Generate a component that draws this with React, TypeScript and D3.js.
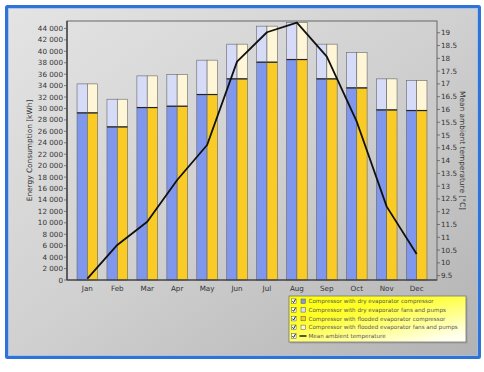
import React from "react";
import * as d3 from "d3";

const months = ["Jan", "Feb", "Mar", "Apr", "May", "Jun", "Jul", "Aug", "Sep", "Oct", "Nov", "Dec"];
const dryCompressor = [29230, 26780, 30160, 30400, 32440, 35180, 38100, 38560, 35180, 33600, 29750, 29640];
const dryFansPumps = [5070, 4840, 5540, 5540, 6010, 6070, 6300, 6480, 6070, 6190, 5430, 5250];
const floodedCompressor = [29230, 26780, 30160, 30400, 32440, 35180, 38100, 38560, 35180, 33600, 29750, 29640];
const floodedFansPumps = [5070, 4840, 5540, 5540, 6010, 6070, 6300, 6480, 6070, 6190, 5430, 5250];
const meanTemperature = [9.38, 10.7, 11.61, 13.24, 14.61, 17.87, 19.02, 19.4, 18.07, 15.52, 12.2, 10.35];

const energyTicks = d3.range(0, 44001, 2000);
const tempTicks = d3.range(9.5, 19.01, 0.5);

const legendItems = [
  { label: "Compressor with dry evaporator compressor", kind: "box", color: "#7f98ee" },
  { label: "Compressor with dry evaporator fans and pumps", kind: "box", color: "#d6dcf8" },
  { label: "Compressor with flooded evaporator compressor", kind: "box", color: "#f9cb24" },
  { label: "Compressor with flooded evaporator fans and pumps", kind: "box", color: "#fff6d8" },
  { label: "Mean ambient temperature", kind: "line", color: "#111" },
];

const W = 484;
const H = 372;
const plot = { left: 67, right: 437, top: 21, bottom: 280 };
const FONT = "DejaVu Sans, Verdana, sans-serif";

const fmt = (v: number) => d3.format(",")(v).replace(/,/g, " ");
const fmtT = (v: number) => (Number.isInteger(v) ? String(v) : v.toFixed(1));

export default function App() {
  const x = d3
    .scaleBand<string>()
    .domain(months)
    .range([plot.left, plot.right])
    .paddingInner(0.31)
    .paddingOuter(0.335);
  const sub = d3.scaleBand<string>().domain(["dry", "flooded"]).range([0, x.bandwidth()]);
  const y = d3.scaleLinear().domain([0, 45300]).range([plot.bottom, plot.top]);
  const yT = d3.scaleLinear().domain([9.33, 19.46]).range([plot.bottom, plot.top]);

  const line = d3
    .line<number>()
    .x((_, i) => (x(months[i]) as number) + x.bandwidth() / 2)
    .y((d) => yT(d));

  const groups = [
    { key: "dry", comp: dryCompressor, fans: dryFansPumps, c1: legendItems[0].color, c2: legendItems[1].color },
    { key: "flooded", comp: floodedCompressor, fans: floodedFansPumps, c1: legendItems[2].color, c2: legendItems[3].color },
  ];

  const lg = { x: 289, y: 296, w: 177, h: 46 };

  return (
    <svg
      width={W}
      height={H}
      style={{ position: "absolute", left: 0, top: 0, display: "block" }}
      fontFamily={FONT}
    >
      <defs>
        <linearGradient id="bg" x1="0" y1="0" x2="1" y2="1">
          <stop offset="0" stopColor="#e4e4e4" />
          <stop offset="0.5" stopColor="#d0d0d0" />
          <stop offset="1" stopColor="#b2b2b2" />
        </linearGradient>
        <linearGradient id="legbg" x1="0" y1="0" x2="0.8" y2="1">
          <stop offset="0" stopColor="#ffff00" />
          <stop offset="0.4" stopColor="#ffff30" />
          <stop offset="1" stopColor="#fffff0" />
        </linearGradient>
      </defs>
      <rect x={0} y={0} width={W} height={H} fill="#ffffff" />
      <rect x={6.5} y={6.5} width={473} height={351} fill="url(#bg)" stroke="#2f72d8" strokeWidth={3} rx={1} />
      <rect x={8.5} y={8.5} width={469} height={347} fill="none" stroke="#9ec0ee" strokeWidth={0.8} />

      {/* bars */}
      {months.map((m, i) => (
        <g key={m}>
          {groups.map((g) => {
            const bx = (x(m) as number) + (sub(g.key) as number);
            const bw = sub.bandwidth();
            const yc = y(g.comp[i]);
            const yt = y(g.comp[i] + g.fans[i]);
            return (
              <g key={g.key}>
                <rect x={bx} y={yc} width={bw} height={plot.bottom - yc} fill={g.c1} stroke="#666" strokeWidth={0.6} />
                <rect x={bx} y={yt} width={bw} height={yc - yt} fill={g.c2} stroke="#666" strokeWidth={0.6} />
                <line x1={bx} x2={bx + bw} y1={yc} y2={yc} stroke="#222" strokeWidth={1.2} />
              </g>
            );
          })}
        </g>
      ))}

      {/* plot frame */}
      <rect
        x={plot.left}
        y={plot.top}
        width={plot.right - plot.left}
        height={plot.bottom - plot.top}
        fill="none"
        stroke="#666"
        strokeWidth={1}
      />
      <line x1={plot.left} x2={plot.left} y1={plot.top} y2={plot.bottom} stroke="#333" strokeWidth={1.2} />
      <line x1={plot.left} x2={plot.right} y1={plot.bottom} y2={plot.bottom} stroke="#333" strokeWidth={1.2} />

      {/* temperature line */}
      <path d={line(meanTemperature) || ""} fill="none" stroke="#111" strokeWidth={1.8} strokeLinejoin="round" />

      {/* left axis */}
      {energyTicks.map((t) => (
        <g key={t}>
          <line x1={plot.left - 3} x2={plot.left} y1={y(t)} y2={y(t)} stroke="#555" strokeWidth={0.7} />
          <text x={plot.left - 4} y={y(t)} dy="0.35em" textAnchor="end" fontSize={7.2} fill="#333">
            {fmt(t)}
          </text>
        </g>
      ))}
      <text
        transform={`translate(32,${(plot.top + plot.bottom) / 2}) rotate(-90)`}
        textAnchor="middle"
        fontSize={7.4}
        fill="#333"
      >
        Energy Consumption [kWh]
      </text>

      {/* right axis */}
      {tempTicks.map((t) => (
        <g key={t}>
          <line x1={plot.right} x2={plot.right + 3} y1={yT(t)} y2={yT(t)} stroke="#555" strokeWidth={0.7} />
          <text x={plot.right + 4} y={yT(t)} dy="0.35em" textAnchor="start" fontSize={7.2} fill="#333">
            {fmtT(t)}
          </text>
        </g>
      ))}
      <text
        transform={`translate(460,${(plot.top + plot.bottom) / 2}) rotate(90)`}
        textAnchor="middle"
        fontSize={7.4}
        fill="#333"
      >
        Mean ambient temperature [°C]
      </text>

      {/* bottom axis */}
      {months.map((m) => (
        <text
          key={m}
          x={(x(m) as number) + x.bandwidth() / 2}
          y={291}
          textAnchor="middle"
          fontSize={7.2}
          fill="#333"
        >
          {m}
        </text>
      ))}

      {/* legend */}
      <rect x={lg.x + 1.5} y={lg.y + 1.5} width={lg.w} height={lg.h} fill="#888" opacity={0.5} />
      <rect x={lg.x} y={lg.y} width={lg.w} height={lg.h} fill="url(#legbg)" stroke="#777" strokeWidth={0.8} />
      {legendItems.map((it, i) => {
        const cy = lg.y + 5.2 + i * 8.7;
        return (
          <g key={it.label}>
            <rect x={lg.x + 2.5} y={cy - 2.3} width={4.6} height={4.6} fill="#fff" stroke="#555" strokeWidth={0.5} />
            <path
              d={`M${lg.x + 3.3},${cy} L${lg.x + 4.6},${cy + 1.4} L${lg.x + 6.5},${cy - 2}`}
              fill="none"
              stroke="#111"
              strokeWidth={0.9}
            />
            {it.kind === "box" ? (
              <rect x={lg.x + 12} y={cy - 2.2} width={4.4} height={4.4} fill={it.color} stroke="#555" strokeWidth={0.5} />
            ) : (
              <line x1={lg.x + 10.5} x2={lg.x + 17.5} y1={cy} y2={cy} stroke={it.color} strokeWidth={1.4} />
            )}
            <text x={lg.x + 19.5} y={cy} dy="0.35em" fontSize={5.6} fill="#555">
              {it.label}
            </text>
          </g>
        );
      })}
    </svg>
  );
}
